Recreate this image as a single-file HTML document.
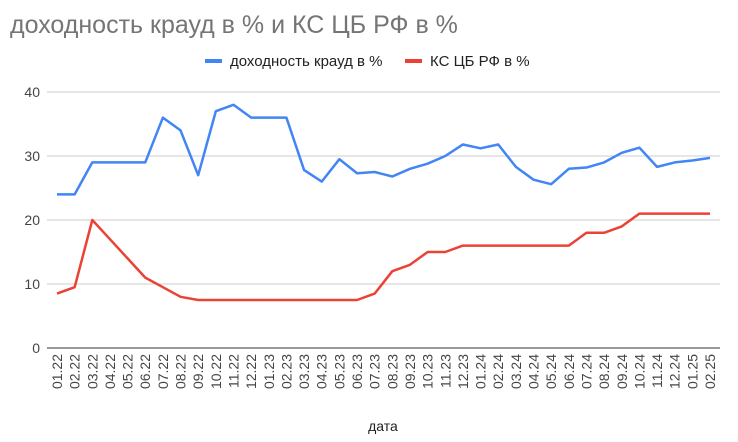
<!DOCTYPE html>
<html><head><meta charset="utf-8"><style>
body{margin:0;background:#fff;font-family:"Liberation Sans",Arial,sans-serif}
svg text{font-family:"Liberation Sans",Arial,sans-serif}
</style></head><body>
<svg id="c" width="738" height="437">
<text x="10" y="33" font-size="25" fill="#757575">доходность крауд в % и КС ЦБ РФ в %</text>
<g>
<line x1="205" y1="61" x2="222" y2="61" stroke="#4285f4" stroke-width="4"/>
<text x="230" y="66" font-size="15" fill="#222">доходность крауд в %</text>
<line x1="405" y1="61" x2="422" y2="61" stroke="#ea4335" stroke-width="4"/>
<text x="430" y="66" font-size="15" fill="#222">КС ЦБ РФ в %</text>
</g>
<text x="383" y="431" font-size="14" fill="#222" text-anchor="middle">дата</text>
<g id="grid"></g><g id="series"></g>
</svg>
<script>
const categories=["01.22","02.22","03.22","04.22","05.22","06.22","07.22","08.22","09.22","10.22","11.22","12.22","01.23","02.23","03.23","04.23","05.23","06.23","07.23","08.23","09.23","10.23","11.23","12.23","01.24","02.24","03.24","04.24","05.24","06.24","07.24","08.24","09.24","10.24","11.24","12.24","01.25","02.25"];
const crowd=[24,24,29,29,29,29,36,34,27,37,38,36,36,36,27.8,26,29.5,27.3,27.5,26.8,28,28.8,30,31.8,31.2,31.8,28.3,26.3,25.6,28,28.2,29,30.5,31.3,28.3,29,29.3,29.7];
const keyRate=[8.5,9.5,20,17,14,11,9.5,8,7.5,7.5,7.5,7.5,7.5,7.5,7.5,7.5,7.5,7.5,8.5,12,13,15,15,16,16,16,16,16,16,16,18,18,19,21,21,21,21,21];
const yTicks=[0,10,20,30,40];
const NS="http://www.w3.org/2000/svg";
const x=i=>57+i*(710-57)/(categories.length-1);
const y=v=>348-v*(256/40);
const grid=document.getElementById('grid'),ser=document.getElementById('series');
function mk(tag,attrs,parent){const e=document.createElementNS(NS,tag);for(const k in attrs)e.setAttribute(k,attrs[k]);parent.appendChild(e);return e;}
yTicks.forEach(t=>{
 const l=mk('line',{x1:47,x2:720,y1:y(t),y2:y(t),stroke:t===0?'#333':'#ccc','stroke-width':1},grid);
 
 
 const tx=mk('text',{x:40,y:y(t)+5,'font-size':14,fill:'#444','text-anchor':'end'},grid);
 tx.textContent=t;
 
 
});
categories.forEach((c,i)=>{
 const tx=mk('text',{x:0,y:0,'font-size':14,fill:'#444','text-anchor':'end',transform:`translate(${x(i)+5},354) rotate(-90)`},grid);
 tx.textContent=c;
 
 
});
function line(data,color,name){
 const p=mk('polyline',{points:data.map((v,i)=>x(i)+','+y(v)).join(' '),fill:'none',stroke:color,'stroke-width':2.5,'stroke-linejoin':'round'},ser);
 
 
}
line(keyRate,'#ea4335','series-key-rate');
line(crowd,'#4285f4','series-crowd');
</script>
</body></html>
